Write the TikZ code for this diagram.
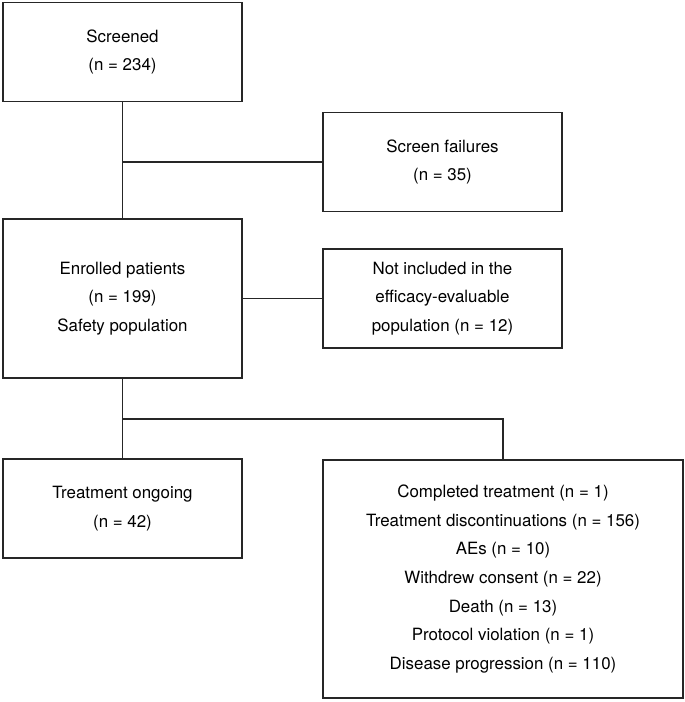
\documentclass[tikz,border=0pt]{standalone}
\usepackage{fontspec}
\setmainfont{TeX Gyre Heros}
\usetikzlibrary{calc}

\tikzset{
	flowbox/.style={draw=black!85, line width=1.3pt, align=center, inner sep=0pt,
		minimum width=239pt, minimum height=99pt,
		font=\fontsize{16.9}{28.6}\selectfont},
	flowline/.style={draw=black!85, line width=1.3pt}
}

\begin{document}
\begin{tikzpicture}[x=1pt,y=-1pt]
	\useasboundingbox (0,0) rectangle (685,702);
	% left column
	\node[flowbox] (scr) at (122.5,52) {Screened\\(n = 234)};
	\node[flowbox, minimum height=159pt] (enr) at (122.5,298.5) {Enrolled patients\\(n = 199)\\Safety population};
	\node[flowbox] (ongo) at (122.5,508.5) {Treatment ongoing\\(n = 42)};
	% right column
	\node[flowbox] (fail) at (442.5,162) {Screen failures\\(n = 35)};
	\node[flowbox] (excl) at (442.5,298.5) {Not included in the\\efficacy-evaluable\\population (n = 12)};
	\node[flowbox, minimum width=360pt, minimum height=238pt] (disc) at (503,579) {Completed treatment (n = 1)\\Treatment discontinuations (n = 156)\\AEs (n = 10)\\Withdrew consent (n = 22)\\Death (n = 13)\\Protocol violation (n = 1)\\Disease progression (n = 110)};
	
	% connectors
	\draw[flowline] (scr.south) -- (enr.north);
	\draw[flowline] (scr.south |- fail.west) -- (fail.west);
	\draw[flowline] (enr.east) -- (excl.west);
	\coordinate (split) at (122.5,419);
	\draw[flowline] (enr.south) -- (ongo.north);
	\draw[flowline] (split) -| (disc.north);
\end{tikzpicture}
\end{document}
